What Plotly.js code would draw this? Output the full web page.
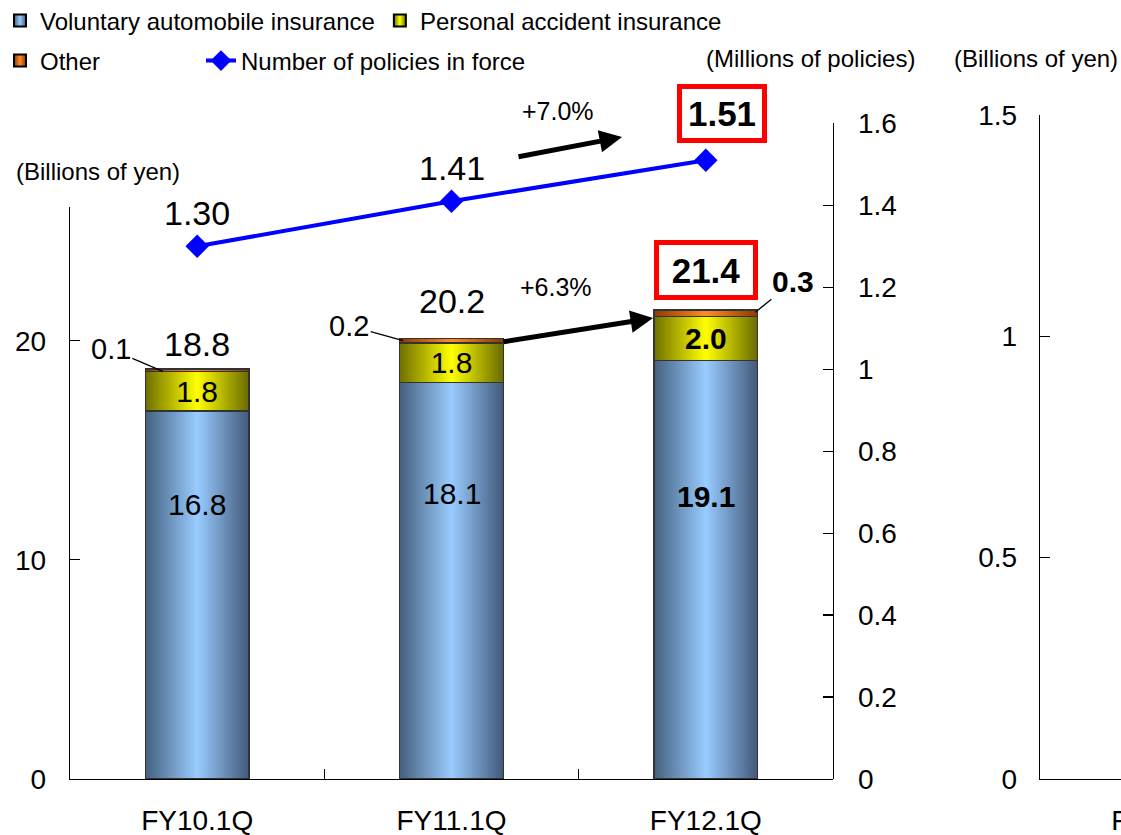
<!DOCTYPE html>
<html><head><meta charset="utf-8">
<script src="https://cdn.plot.ly/plotly-3.0.1.min.js"></script>
<style>html,body{margin:0;padding:0;overflow:hidden;background:#fff}#chart{width:1300px;height:835px}</style>
</head><body><div id="chart"></div>
<script>
// ---- data ----
const categories = ['FY10.1Q', 'FY11.1Q', 'FY12.1Q'];
const autoIns = [16.8, 18.1, 19.1];
const accidentIns = [1.8, 1.8, 2.0];
const otherIns = [0.1, 0.2, 0.3];
const premiumTotals = [18.8, 20.2, 21.4];
const policies = [1.30, 1.41, 1.51];
const policyGrowth = '+7.0%';
const premiumGrowth = '+6.3%';
const rightChartCategories = ['FY10.1Q'];
const seriesNames = ['Voluntary automobile insurance', 'Personal accident insurance', 'Other', 'Number of policies in force'];

// ---- geometry helpers (pixel -> paper) ----
const W = 1300, H = 835, ML = 70, MR = 0, MT = 115, MB = 56;
const PW = W - ML - MR, PH = H - MT - MB;
const px = v => (v - ML) / PW;
const py = v => (H - MB - v) / PH;
const FONT = 'Liberation Sans, Arial, sans-serif';
const last = categories.length - 1;
const fmt = (v, i) => i === last ? '<b>' + v.toFixed(1) + '</b>' : v.toFixed(1);
const tops = autoIns.map((v, i) => v + accidentIns[i] + otherIns[i]);

const barLine = {color: '#333333', width: 1.5};
const barCommon = {
  type: 'bar', x: categories, xaxis: 'x', yaxis: 'y',
  textposition: 'none', constraintext: 'none', insidetextanchor: 'middle',
  textfont: {family: FONT, size: 30, color: '#000'}, cliponaxis: false,
  hoverinfo: 'skip'
};
const data = [
  Object.assign({}, barCommon, {name: seriesNames[0], y: autoIns,
    marker: {color: '#7fa8d6', line: barLine}, legend: 'legend'}),
  Object.assign({}, barCommon, {name: seriesNames[1], y: accidentIns, text: accidentIns.map(fmt), textposition: 'inside',
    marker: {color: '#dede00', line: barLine}, legend: 'legend'}),
  Object.assign({}, barCommon, {name: seriesNames[2], y: otherIns,
    marker: {color: '#e07020', line: barLine}, legend: 'legend2'}),
  {type: 'scatter', mode: 'lines+markers', name: seriesNames[3], x: categories, y: policies,
    xaxis: 'x', yaxis: 'y2', legend: 'legend3', cliponaxis: false,
    line: {color: '#0000ff', width: 4}, marker: {symbol: 'diamond', size: 18, color: '#0000ff'},
    hoverinfo: 'skip'},
  // right-hand (cut-off) chart: axes only, its marks lie beyond the frame
  {type: 'scatter', mode: 'markers', x: [], y: [], xaxis: 'x2', yaxis: 'y3', showlegend: false, hoverinfo: 'skip'}
];

const axisStyle = {
  showline: true, linecolor: '#000', linewidth: 1.3, ticks: 'inside', ticklen: 10,
  tickwidth: 1.3, tickcolor: '#000', showgrid: false, zeroline: false,
  tickfont: {family: FONT, size: 28, color: '#000'}, fixedrange: true
};

const annotations = [];
const txt = (o) => annotations.push(Object.assign({showarrow: false, xanchor: 'center', yanchor: 'middle',
  font: {family: FONT, size: 24, color: '#000'}}, o));

// unit labels
txt({text: '(Billions of yen)', xref: 'paper', yref: 'paper', x: px(14), y: py(172), xanchor: 'left'});
txt({text: '(Millions of policies)', xref: 'paper', yref: 'paper', x: px(917), y: py(58), xanchor: 'right'});
txt({text: '(Billions of yen)', xref: 'paper', yref: 'paper', x: px(1120), y: py(58), xanchor: 'right'});

// policy labels above line points
const polShift = [33, 33, 47];
policies.forEach((v, i) => {
  const o = {text: i === last ? '<b>' + v.toFixed(2) + '</b>' : v.toFixed(2), xref: 'x', yref: 'y2', x: categories[i], y: v,
    yshift: polShift[i], font: {family: FONT, size: i === last ? 35 : 34, color: '#000'}};
  if (i === last) Object.assign(o, {xshift: 16, bordercolor: '#ff0000', borderwidth: 5, borderpad: 0, width: 80, height: 49});
  txt(o);
});

// premium totals above bars
const totShift = [25, 37, 40];
premiumTotals.forEach((v, i) => {
  const o = {text: i === last ? '<b>' + v.toFixed(1) + '</b>' : v.toFixed(1), xref: 'x', yref: 'y', x: categories[i], y: tops[i],
    yshift: totShift[i], font: {family: FONT, size: i === last ? 35 : 34, color: '#000'}};
  if (i === last) Object.assign(o, {bordercolor: '#ff0000', borderwidth: 5, borderpad: 0, width: 94, height: 50});
  txt(o);
});

// labels inside the automobile segments (placed in the upper part of the segment, as in the original)
const autoLabelFrac = [0.745, 0.72, 0.675];
autoIns.forEach((v, i) => {
  txt({text: fmt(v, i), xref: 'x', yref: 'y', x: categories[i], y: v * autoLabelFrac[i],
    font: {family: FONT, size: 30, color: '#000'}});
});

// leader lines for "Other"
const leaderDx = [-0.135, -0.19, 0.195];
const leaderAx = [[-52, -22], [-54, -15], [38, -31]];
otherIns.forEach((v, i) => {
  annotations.push({text: i === last ? '<b>' + v.toFixed(1) + '</b>' : v.toFixed(1), xref: 'x', yref: 'y',
    x: i + leaderDx[i], y: tops[i] - 0.1, ax: leaderAx[i][0], ay: leaderAx[i][1],
    showarrow: true, arrowhead: 0, arrowwidth: 1.3, arrowcolor: '#000', standoff: 0,
    font: {family: FONT, size: i === last ? 30 : 29, color: '#000'}});
});

// growth arrows
annotations.push({text: '', xref: 'paper', yref: 'paper', x: px(622), y: py(137), ax: -105, ay: 20,
  showarrow: true, arrowhead: 2, arrowsize: 0.9, arrowwidth: 5, arrowcolor: '#000', standoff: 0});
txt({text: policyGrowth, xref: 'paper', yref: 'paper', x: px(558), y: py(111), font: {family: FONT, size: 25, color: '#000'}});
annotations.push({text: '', xref: 'paper', yref: 'paper', x: px(653), y: py(318), ax: -151, ay: 24,
  showarrow: true, arrowhead: 2, arrowsize: 0.9, arrowwidth: 5, arrowcolor: '#000', standoff: 0});
txt({text: premiumGrowth, xref: 'paper', yref: 'paper', x: px(556), y: py(287), font: {family: FONT, size: 25, color: '#000'}});

const legendBase = {orientation: 'h', xref: 'container', yref: 'container', xanchor: 'left', yanchor: 'middle',
  font: {family: FONT, size: 24, color: '#000'}, traceorder: 'normal', bgcolor: 'rgba(0,0,0,0)', itemclick: false};

const layout = {
  width: W, height: H, margin: {l: ML, r: MR, t: MT, b: MB, pad: 0},
  paper_bgcolor: '#fff', plot_bgcolor: 'rgba(0,0,0,0)',
  font: {family: FONT, color: '#000'},
  barmode: 'stack', bargap: 0.593,
  showlegend: true,
  legend: Object.assign({}, legendBase, {x: 0, y: 1 - 21 / H}),
  legend2: Object.assign({}, legendBase, {x: 0, y: 1 - 61 / H}),
  legend3: Object.assign({}, legendBase, {x: 201 / W, y: 1 - 61 / H}),
  xaxis: Object.assign({}, axisStyle, {domain: [0, px(833)], anchor: 'y', type: 'category', range: [-0.5, 2.5],
    tickson: 'boundaries', ticklabelstandoff: 16}),
  yaxis: Object.assign({}, axisStyle, {domain: [0, (779 - 207) / PH], anchor: 'x', range: [0, 26.1], dtick: 10, tick0: 0,
    ticklabelstandoff: 17}),
  yaxis2: Object.assign({}, axisStyle, {domain: [0, (779 - 123.4) / PH], anchor: 'x', side: 'right', range: [0, 1.6], dtick: 0.2, tick0: 0,
    ticklabelstandoff: 18}),
  xaxis2: Object.assign({}, axisStyle, {domain: [px(1040), 1], anchor: 'y3', range: [-0.5, 0.522], tickmode: 'array',
    tickvals: [0], ticktext: rightChartCategories, ticks: '', ticklabelstandoff: 16}),
  yaxis3: Object.assign({}, axisStyle, {domain: [0, 1], anchor: 'x2', range: [0, 1.5], dtick: 0.5, tick0: 0,
    ticklabelstandoff: 16}),
  annotations: annotations
};

const gradients = [
  ['#44607e', '#99ccff', '#42597a'],
  ['#6f6f00', '#ffff00', '#6a6a00'],
  ['#8a3a00', '#ff8c2a', '#8a3a00']
];
function applyGradients(gd) {
  const svg = gd.querySelector('svg.main-svg');
  const NS = 'http://www.w3.org/2000/svg';
  let defs = svg.querySelector('defs');
  if (!defs) { defs = document.createElementNS(NS, 'defs'); svg.insertBefore(defs, svg.firstChild); }
  gradients.forEach((g, idx) => {
    const lg = document.createElementNS(NS, 'linearGradient');
    lg.setAttribute('id', 'barGrad' + idx);
    lg.setAttribute('x1', '0'); lg.setAttribute('x2', '1'); lg.setAttribute('y1', '0'); lg.setAttribute('y2', '0');
    [[0, g[0]], [0.5, g[1]], [1, g[2]]].forEach(s => {
      const st = document.createElementNS(NS, 'stop');
      st.setAttribute('offset', s[0]); st.setAttribute('stop-color', s[1]);
      lg.appendChild(st);
    });
    defs.appendChild(lg);
  });
  gd.querySelectorAll('g.trace.bars').forEach(g => {
    const cd = g.__data__; if (!cd || !cd[0]) return;
    const idx = cd[0].trace.index;
    if (idx < gradients.length) g.querySelectorAll('path').forEach(p => { p.style.fill = 'url(#barGrad' + idx + ')'; });
  });
  gd.querySelectorAll('g.traces').forEach(g => {
    const d = g.__data__; if (!d || !d[0]) return;
    const tr = d[0].trace;
    if (tr.type === 'bar') g.querySelectorAll('.legendpoints path').forEach(p => {
      p.style.fill = 'url(#barGrad' + tr.index + ')'; p.style.stroke = '#000'; p.style.strokeWidth = '2px';
    });
  });
}

const gd = document.getElementById('chart');
Plotly.newPlot(gd, data, layout, {staticPlot: true, displayModeBar: false}).then(applyGradients);
</script>
</body></html>
